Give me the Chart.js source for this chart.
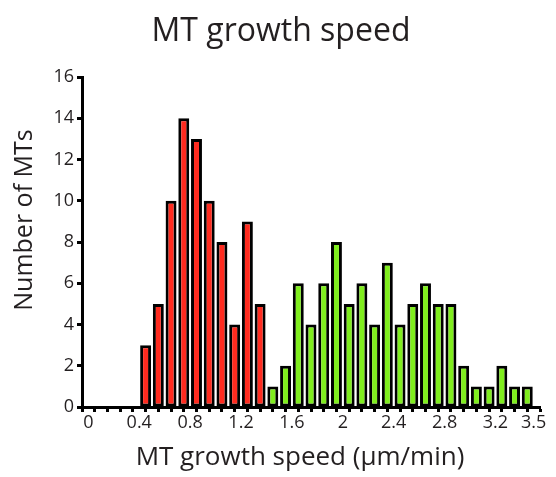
<!DOCTYPE html>
<html>
<head>
<meta charset="utf-8">
<script src="https://cdn.jsdelivr.net/npm/chart.js@4/dist/chart.umd.min.js"></script>
<style>
html,body{margin:0;padding:0;background:#fff;}
#wrap{width:556px;height:477px;}
</style>
</head>
<body>
<div id="wrap"><canvas id="c" width="556" height="477"></canvas></div>
<script>
// Bin centres (µm/min), bin width 0.1
const binCenters = [0.45,0.55,0.65,0.75,0.85,0.95,1.05,1.15,1.25,1.35,
  1.45,1.55,1.65,1.75,1.85,1.95,2.05,2.15,2.25,2.35,2.45,2.55,2.65,2.75,2.85,2.95,3.05,3.15,3.25,3.35,3.45];
// Slow population (red)
const redCounts = [3,5,10,14,13,10,8,4,9,5];
// Fast population (green)
const greenCounts = [1,2,6,4,6,8,5,6,4,7,4,5,6,5,5,2,1,1,2,1,1];
const xTickValues = [0,0.4,0.8,1.2,1.6,2,2.4,2.8,3.2,3.5];
const xTickLabels = ['0','0.4','0.8','1.2','1.6','2','2.4','2.8','3.2','3.5'];
const yTickValues = [0,2,4,6,8,10,12,14,16];
const chartTitle = 'MT growth speed';
const xTitle = 'MT growth speed (µm/min)';
const yTitle = 'Number of MTs';

const counts = redCounts.concat(greenCounts);
const points = binCenters.map((x,i)=>({x:x,y:counts[i]}));
const colors = binCenters.map((x,i)=> i < redCounts.length ? '#ff2b1f' : '#80ee1e');

const fontFam = "'Open Sans', 'Noto Sans', sans-serif";
const textColor = '#231f20';

const titlesPlugin = {
  id: 'titles',
  afterDraw(chart) {
    const ctx = chart.ctx;
    ctx.save();
    ctx.fillStyle = textColor;
    ctx.textBaseline = 'alphabetic';
    ctx.textAlign = 'center';
    ctx.font = `32px ${fontFam}`;
    ctx.fillText(chartTitle, 281, 41);
    ctx.font = `26px ${fontFam}`;
    ctx.fillText(xTitle, 300, 465);
    ctx.translate(32, 220);
    ctx.rotate(-Math.PI / 2);
    ctx.font = `25px ${fontFam}`;
    ctx.fillText(yTitle, 0, 0);
    ctx.restore();
  }
};

new Chart(document.getElementById('c'), {
  type: 'bar',
  data: {
    datasets: [{
      data: points,
      backgroundColor: colors,
      borderColor: '#000',
      borderWidth: 3,
      borderSkipped: false,
      barPercentage: 0.86,
      categoryPercentage: 1.0
    }]
  },
  plugins: [titlesPlugin],
  options: {
    responsive: false,
    animation: false,
    devicePixelRatio: 1,
    layout: { padding: { left: 0, right: 16, top: 77, bottom: 0 } },
    plugins: {
      legend: { display: false },
      tooltip: { enabled: false },
      title: { display: false }
    },
    scales: {
      x: {
        type: 'linear',
        min: 0, max: 3.5,
        afterBuildTicks: (s) => {
          const t = [];
          for (let i = 0; i <= 35; i++) t.push({ value: i / 10 });
          s.ticks = t;
        },
        afterFit: (s) => { s.height = 70; },
        ticks: {
          autoSkip: false, maxRotation: 0, minRotation: 0,
          color: textColor,
          padding: 0,
          font: { family: fontFam, size: 18 },
          callback: (v) => {
            const k = xTickValues.findIndex(t => Math.abs(t - v) < 1e-6);
            return k >= 0 ? xTickLabels[k] : '';
          }
        },
        grid: { drawOnChartArea: false, drawTicks: true, tickLength: 5, tickWidth: 3, tickColor: '#000' },
        border: { color: '#000', width: 3 },
        title: { display: false }
      },
      y: {
        min: 0, max: 16,
        afterBuildTicks: (s) => { s.ticks = yTickValues.map(v => ({ value: v })); },
        afterFit: (s) => { s.width = 82; },
        ticks: {
          color: textColor,
          padding: 3,
          font: { family: fontFam, size: 18 }
        },
        grid: { drawOnChartArea: false, drawTicks: true, tickLength: 5, tickWidth: 3, tickColor: '#000' },
        border: { color: '#000', width: 3 },
        title: { display: false }
      }
    }
  }
});
</script>
</body>
</html>
